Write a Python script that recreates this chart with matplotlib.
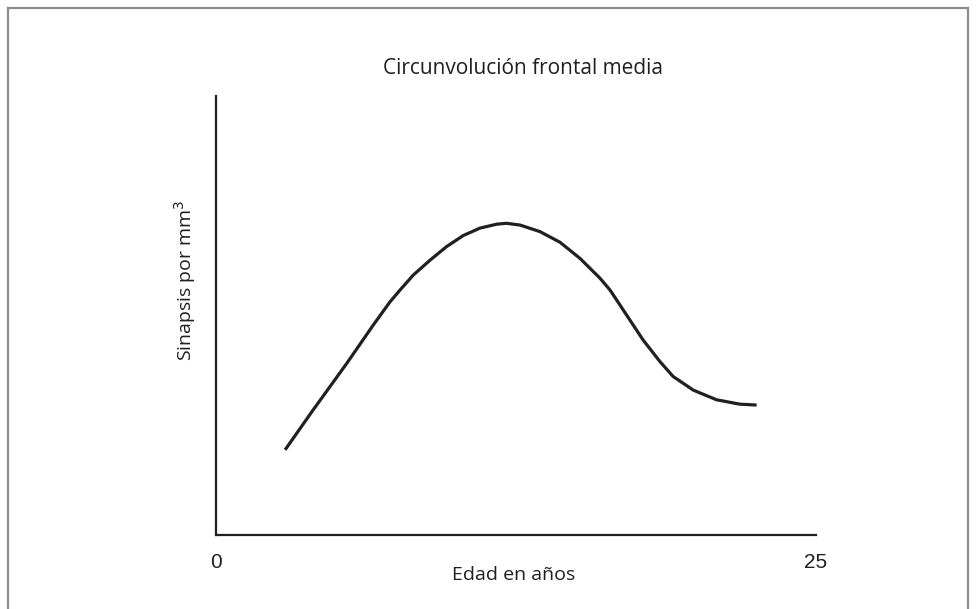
import matplotlib
matplotlib.use('Agg')
import matplotlib.pyplot as plt
from matplotlib.patches import Rectangle

# edad (años) vs sinapsis (unidades relativas)
edad = [2.88, 4.05, 5.45, 6.55, 7.25, 7.67, 8.22, 8.92, 9.61, 10.30, 11.0,
        11.70, 12.1, 12.67, 13.5, 14.33, 15.17, 16.0, 16.42, 17.11, 17.80,
        18.5, 19.05, 19.89, 20.86, 21.83, 22.53]
sinapsis = [1.94, 2.85, 3.91, 4.78, 5.31, 5.58, 5.92, 6.26, 6.57, 6.82, 6.99,
            7.08, 7.10, 7.06, 6.91, 6.67, 6.30, 5.85, 5.58, 5.01, 4.44,
            3.95, 3.61, 3.30, 3.08, 2.98, 2.96]
xticks = [0, 25]
xticklabels = ['0', '25']

ink = '#231f20'

fig = plt.figure(figsize=(9.76, 6.09), dpi=100)
fig.patches.append(Rectangle((8 / 976, -0.1), 960 / 976, 1.1 - 8 / 609,
                             transform=fig.transFigure, fill=False,
                             edgecolor='#8c8c8c', linewidth=1.6))

ax = fig.add_axes([0.2213, 0.1215, 0.6147, 0.7209])
ax.plot(edad, sinapsis, color=ink, linewidth=2.3, solid_capstyle='butt',
        solid_joinstyle='round')
ax.set_xlim(0, 25)
ax.set_ylim(0, 10)

for s in ['top', 'right']:
    ax.spines[s].set_visible(False)
for s in ['left', 'bottom']:
    ax.spines[s].set_linewidth(1.6)
    ax.spines[s].set_color(ink)

ax.set_xticks(xticks)
ax.set_xticklabels(xticklabels, fontsize=15, family='Liberation Sans', color=ink)
ax.tick_params(axis='x', length=0, pad=13)
ax.set_yticks([])

fig.text(523 / 976, 1 - 68 / 609, 'Circunvolución frontal media', ha='center',
         va='center', fontsize=15, color=ink, family='Open Sans')
fig.text(514 / 976, 1 - 575 / 609, 'Edad en años', ha='center', va='center',
         fontsize=14, color=ink, family='Open Sans')
fig.text(185 / 976, 1 - 280 / 609, 'Sinapsis por mm$^3$', ha='center',
         va='center', rotation=90, fontsize=14, color=ink, family='Open Sans')

fig.savefig('out.png', dpi=100)
